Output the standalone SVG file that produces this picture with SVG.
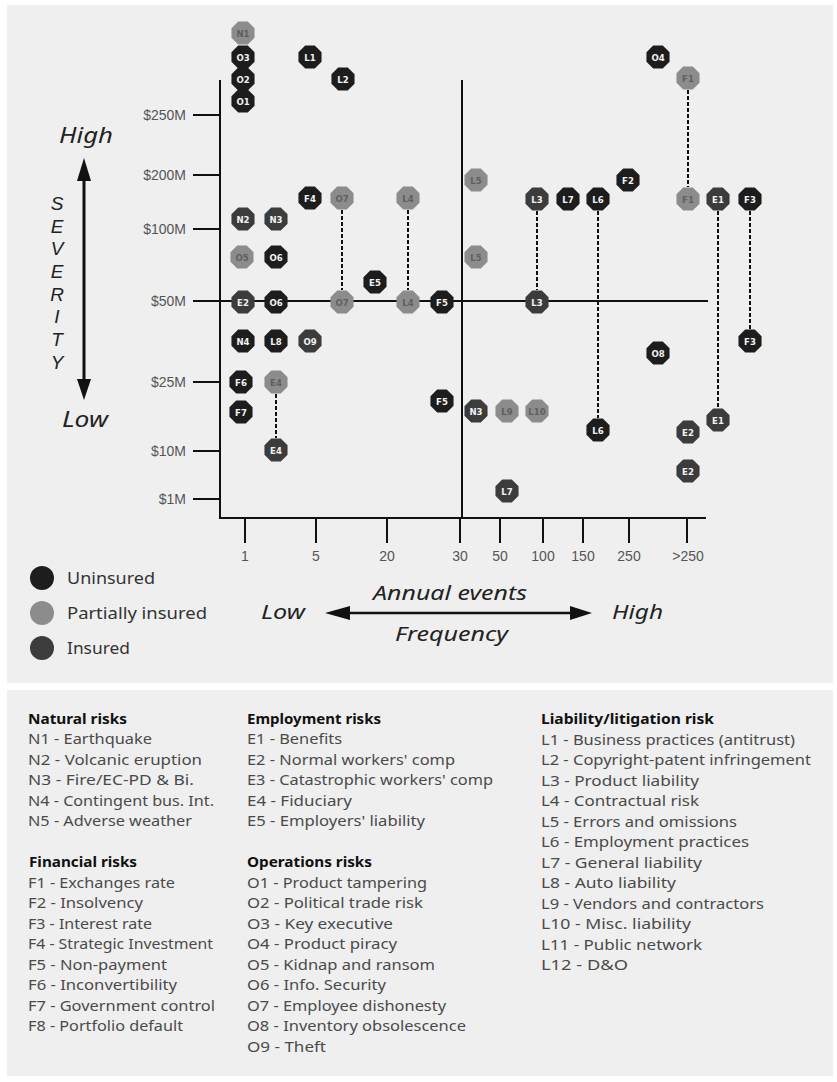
<svg xmlns="http://www.w3.org/2000/svg" xmlns:xlink="http://www.w3.org/1999/xlink" width="837" height="1082" viewBox="0 0 837 1082">
<style>
.panel{fill:#efefef}
.ax{stroke:#111;stroke-width:2;fill:none}
.dash{stroke:#111;stroke-width:2;stroke-dasharray:4 2;fill:none}
.u{fill:#1d1d1d}
.p{fill:#8c8c8c}
.i{fill:#3c3c3c}
.nt{font-family:"DejaVu Sans Condensed","DejaVu Sans",sans-serif;font-size:9.5px;font-weight:bold;text-anchor:middle;fill:#f2f2f2}
.pt{fill:#5f5f5f}
.tick{font-family:"Liberation Sans",Arial,sans-serif;font-size:14px;fill:#555}
.ytl{text-anchor:end}
.xtl{text-anchor:middle}
.it{font-family:"Noto Sans","Open Sans",sans-serif;font-style:italic;fill:#222}
.sev{font-family:"Liberation Sans",Arial,sans-serif;font-style:italic;font-size:19px;text-anchor:middle;fill:#222}
.lg{font-family:"Noto Sans","Open Sans",sans-serif;font-size:15px;fill:#4a4a4a}
.hd{font-family:"Noto Sans","Open Sans",sans-serif;font-size:15px;font-weight:bold;fill:#111}
.key{font-family:"Noto Sans","Open Sans",sans-serif;font-size:16px;fill:#333}
</style>
<defs>
<polygon id="oct" points="11.55,4.78 4.78,11.55 -4.78,11.55 -11.55,4.78 -11.55,-4.78 -4.78,-11.55 4.78,-11.55 11.55,-4.78"/>
</defs>
<rect class="panel" x="7" y="5" width="826" height="678"/>
<rect class="panel" x="7" y="690" width="826" height="386"/>

<g id="axes">
<line class="ax" x1="220" y1="80" x2="220" y2="519"/>
<line class="ax" x1="219" y1="518" x2="706" y2="518"/>
<line class="ax" x1="462" y1="80" x2="462" y2="518"/>
<line class="ax" x1="220" y1="301" x2="708" y2="301"/>
<g class="ax">
<line x1="193" y1="115" x2="220" y2="115"/>
<line x1="193" y1="175" x2="220" y2="175"/>
<line x1="193" y1="229" x2="220" y2="229"/>
<line x1="193" y1="301" x2="220" y2="301"/>
<line x1="193" y1="382" x2="220" y2="382"/>
<line x1="193" y1="451" x2="220" y2="451"/>
<line x1="193" y1="499" x2="220" y2="499"/>
<line x1="245" y1="518" x2="245" y2="543"/>
<line x1="316" y1="518" x2="316" y2="543"/>
<line x1="387" y1="518" x2="387" y2="543"/>
<line x1="460" y1="518" x2="460" y2="543"/>
<line x1="500" y1="518" x2="500" y2="543"/>
<line x1="543" y1="518" x2="543" y2="543"/>
<line x1="583" y1="518" x2="583" y2="543"/>
<line x1="629" y1="518" x2="629" y2="543"/>
<line x1="687" y1="518" x2="687" y2="543"/>
</g>
<g class="tick ytl">
<text x="186" y="120">$250M</text>
<text x="186" y="180">$200M</text>
<text x="186" y="234">$100M</text>
<text x="186" y="306">$50M</text>
<text x="186" y="387">$25M</text>
<text x="186" y="456">$10M</text>
<text x="186" y="504">$1M</text>
</g>
<g class="tick xtl">
<text x="245" y="561">1</text>
<text x="316" y="561">5</text>
<text x="387" y="561">20</text>
<text x="460" y="561">30</text>
<text x="500" y="561">50</text>
<text x="543" y="561">100</text>
<text x="583" y="561">150</text>
<text x="629" y="561">250</text>
<text x="688" y="561">&gt;250</text>
</g>
</g>

<g id="severity">
<line x1="84" y1="178" x2="84" y2="382" stroke="#111" stroke-width="3"/>
<polygon points="84,158 77,181 91,181" fill="#111"/>
<polygon points="84,400 77,379 91,379" fill="#111"/>
<text class="it" x="86" y="143" font-size="22" text-anchor="middle" textLength="54" lengthAdjust="spacingAndGlyphs">High</text>
<text class="it" x="85" y="427" font-size="22" text-anchor="middle" textLength="46" lengthAdjust="spacingAndGlyphs">Low</text>
<g class="sev">
<text x="57" y="210">S</text>
<text x="57" y="233">E</text>
<text x="57" y="255">V</text>
<text x="57" y="278">E</text>
<text x="57" y="301">R</text>
<text x="57" y="323">I</text>
<text x="57" y="346">T</text>
<text x="57" y="369">Y</text>
</g>
</g>

<g id="frequency">
<line x1="345" y1="613" x2="575" y2="613" stroke="#111" stroke-width="2.5"/>
<polygon points="325,613 350,606 350,620" fill="#111"/>
<polygon points="592,613 570,606 570,620" fill="#111"/>
<text class="it" x="261" y="619" font-size="20" textLength="44" lengthAdjust="spacingAndGlyphs">Low</text>
<text class="it" x="612" y="619" font-size="20" textLength="51" lengthAdjust="spacingAndGlyphs">High</text>
<text class="it" x="373" y="600" font-size="20" textLength="154" lengthAdjust="spacingAndGlyphs">Annual events</text>
<text class="it" x="395" y="641" font-size="20" textLength="113" lengthAdjust="spacingAndGlyphs">Frequency</text>
</g>

<g id="key">
<circle class="u" cx="42" cy="578" r="12"/>
<circle class="p" cx="42" cy="613" r="12"/>
<circle class="i" cx="42" cy="648" r="12"/>
<text class="key" x="67" y="584" textLength="88" lengthAdjust="spacingAndGlyphs">Uninsured</text>
<text class="key" x="67" y="619" textLength="140" lengthAdjust="spacingAndGlyphs">Partially insured</text>
<text class="key" x="67" y="654" textLength="63" lengthAdjust="spacingAndGlyphs">Insured</text>
</g>

<g id="connectors">
<line class="dash" x1="342" y1="210" x2="342" y2="290"/>
<line class="dash" x1="408" y1="210" x2="408" y2="290"/>
<line class="dash" x1="688" y1="90" x2="688" y2="187"/>
<line class="dash" x1="537" y1="211" x2="537" y2="290"/>
<line class="dash" x1="598" y1="211" x2="598" y2="418"/>
<line class="dash" x1="718" y1="211" x2="718" y2="408"/>
<line class="dash" x1="750" y1="211" x2="750" y2="329"/>
<line class="dash" x1="276" y1="394" x2="276" y2="438"/>
</g>

<g id="nodes">
<g id="n-N1"><use href="#oct" class="p" x="243" y="33"/><text class="nt pt" x="243" y="36.5">N1</text></g>
<g id="n-O3"><use href="#oct" class="u" x="243" y="57"/><text class="nt" x="243" y="60.5">O3</text></g>
<g id="n-O2"><use href="#oct" class="u" x="243" y="79"/><text class="nt" x="243" y="82.5">O2</text></g>
<g id="n-O1"><use href="#oct" class="u" x="243" y="101"/><text class="nt" x="243" y="104.5">O1</text></g>
<g id="n-L1"><use href="#oct" class="u" x="310" y="57"/><text class="nt" x="310" y="60.5">L1</text></g>
<g id="n-L2"><use href="#oct" class="u" x="343" y="79"/><text class="nt" x="343" y="82.5">L2</text></g>
<g id="n-O4"><use href="#oct" class="u" x="658" y="57"/><text class="nt" x="658" y="60.5">O4</text></g>
<g id="n-F1-a"><use href="#oct" class="p" x="688" y="78"/><text class="nt pt" x="688" y="81.5">F1</text></g>
<g id="n-L5-a"><use href="#oct" class="p" x="476" y="180"/><text class="nt pt" x="476" y="183.5">L5</text></g>
<g id="n-F2"><use href="#oct" class="u" x="628" y="180"/><text class="nt" x="628" y="183.5">F2</text></g>
<g id="n-F4"><use href="#oct" class="u" x="310" y="198"/><text class="nt" x="310" y="201.5">F4</text></g>
<g id="n-O7-a"><use href="#oct" class="p" x="342" y="198"/><text class="nt pt" x="342" y="201.5">O7</text></g>
<g id="n-L4-a"><use href="#oct" class="p" x="408" y="198"/><text class="nt pt" x="408" y="201.5">L4</text></g>
<g id="n-L3-a"><use href="#oct" class="i" x="537" y="199"/><text class="nt" x="537" y="202.5">L3</text></g>
<g id="n-L7-a"><use href="#oct" class="u" x="568" y="199"/><text class="nt" x="568" y="202.5">L7</text></g>
<g id="n-L6-a"><use href="#oct" class="u" x="598" y="199"/><text class="nt" x="598" y="202.5">L6</text></g>
<g id="n-F1-b"><use href="#oct" class="p" x="688" y="199"/><text class="nt pt" x="688" y="202.5">F1</text></g>
<g id="n-E1-a"><use href="#oct" class="i" x="718" y="199"/><text class="nt" x="718" y="202.5">E1</text></g>
<g id="n-F3-a"><use href="#oct" class="u" x="750" y="199"/><text class="nt" x="750" y="202.5">F3</text></g>
<g id="n-N2"><use href="#oct" class="i" x="243" y="219"/><text class="nt" x="243" y="222.5">N2</text></g>
<g id="n-N3-a"><use href="#oct" class="i" x="276" y="219"/><text class="nt" x="276" y="222.5">N3</text></g>
<g id="n-O5"><use href="#oct" class="p" x="242" y="257"/><text class="nt pt" x="242" y="260.5">O5</text></g>
<g id="n-O6-a"><use href="#oct" class="u" x="276" y="257"/><text class="nt" x="276" y="260.5">O6</text></g>
<g id="n-L5-b"><use href="#oct" class="p" x="476" y="257"/><text class="nt pt" x="476" y="260.5">L5</text></g>
<g id="n-E5"><use href="#oct" class="u" x="375" y="282"/><text class="nt" x="375" y="285.5">E5</text></g>
<g id="n-E2-a"><use href="#oct" class="i" x="243" y="302"/><text class="nt" x="243" y="305.5">E2</text></g>
<g id="n-O6-b"><use href="#oct" class="u" x="276" y="302"/><text class="nt" x="276" y="305.5">O6</text></g>
<g id="n-O7-b"><use href="#oct" class="p" x="342" y="302"/><text class="nt pt" x="342" y="305.5">O7</text></g>
<g id="n-L4-b"><use href="#oct" class="p" x="408" y="302"/><text class="nt pt" x="408" y="305.5">L4</text></g>
<g id="n-F5-a"><use href="#oct" class="u" x="442" y="302"/><text class="nt" x="442" y="305.5">F5</text></g>
<g id="n-L3-b"><use href="#oct" class="i" x="537" y="302"/><text class="nt" x="537" y="305.5">L3</text></g>
<g id="n-N4"><use href="#oct" class="u" x="243" y="341"/><text class="nt" x="243" y="344.5">N4</text></g>
<g id="n-L8"><use href="#oct" class="u" x="276" y="341"/><text class="nt" x="276" y="344.5">L8</text></g>
<g id="n-O9"><use href="#oct" class="i" x="310" y="341"/><text class="nt" x="310" y="344.5">O9</text></g>
<g id="n-F3-b"><use href="#oct" class="u" x="750" y="341"/><text class="nt" x="750" y="344.5">F3</text></g>
<g id="n-O8"><use href="#oct" class="u" x="658" y="353"/><text class="nt" x="658" y="356.5">O8</text></g>
<g id="n-F6"><use href="#oct" class="u" x="241" y="382"/><text class="nt" x="241" y="385.5">F6</text></g>
<g id="n-E4-a"><use href="#oct" class="p" x="276" y="382"/><text class="nt pt" x="276" y="385.5">E4</text></g>
<g id="n-F5-b"><use href="#oct" class="u" x="442" y="401"/><text class="nt" x="442" y="404.5">F5</text></g>
<g id="n-N3-b"><use href="#oct" class="i" x="476" y="411"/><text class="nt" x="476" y="414.5">N3</text></g>
<g id="n-L9"><use href="#oct" class="p" x="507" y="411"/><text class="nt pt" x="507" y="414.5">L9</text></g>
<g id="n-L10"><use href="#oct" class="p" x="537" y="411"/><text class="nt pt" x="537" y="414.5">L10</text></g>
<g id="n-F7"><use href="#oct" class="u" x="241" y="412"/><text class="nt" x="241" y="415.5">F7</text></g>
<g id="n-E1-b"><use href="#oct" class="i" x="718" y="420"/><text class="nt" x="718" y="423.5">E1</text></g>
<g id="n-L6-b"><use href="#oct" class="u" x="598" y="430"/><text class="nt" x="598" y="433.5">L6</text></g>
<g id="n-E2-b"><use href="#oct" class="i" x="688" y="432"/><text class="nt" x="688" y="435.5">E2</text></g>
<g id="n-E4-b"><use href="#oct" class="i" x="276" y="450"/><text class="nt" x="276" y="453.5">E4</text></g>
<g id="n-E2-c"><use href="#oct" class="i" x="688" y="471"/><text class="nt" x="688" y="474.5">E2</text></g>
<g id="n-L7-b"><use href="#oct" class="i" x="507" y="491"/><text class="nt" x="507" y="494.5">L7</text></g>
</g>

<g id="legend">
<text class="hd" x="28" y="724" textLength="99" lengthAdjust="spacingAndGlyphs">Natural risks</text>
<text class="lg" x="28" y="744" textLength="124" lengthAdjust="spacingAndGlyphs">N1 - Earthquake</text>
<text class="lg" x="28" y="765" textLength="174" lengthAdjust="spacingAndGlyphs">N2 - Volcanic eruption</text>
<text class="lg" x="28" y="785" textLength="166" lengthAdjust="spacingAndGlyphs">N3 - Fire/EC-PD &amp; Bi.</text>
<text class="lg" x="28" y="806" textLength="186" lengthAdjust="spacingAndGlyphs">N4 - Contingent bus. Int.</text>
<text class="lg" x="28" y="826" textLength="164" lengthAdjust="spacingAndGlyphs">N5 - Adverse weather</text>
<text class="hd" x="29" y="867" textLength="108" lengthAdjust="spacingAndGlyphs">Financial risks</text>
<text class="lg" x="28" y="888" textLength="147" lengthAdjust="spacingAndGlyphs">F1 - Exchanges rate</text>
<text class="lg" x="28" y="908" textLength="115" lengthAdjust="spacingAndGlyphs">F2 - Insolvency</text>
<text class="lg" x="28" y="929" textLength="124" lengthAdjust="spacingAndGlyphs">F3 - Interest rate</text>
<text class="lg" x="28" y="949" textLength="185" lengthAdjust="spacingAndGlyphs">F4 - Strategic Investment</text>
<text class="lg" x="28" y="970" textLength="139" lengthAdjust="spacingAndGlyphs">F5 - Non-payment</text>
<text class="lg" x="28" y="990" textLength="149" lengthAdjust="spacingAndGlyphs">F6 - Inconvertibility</text>
<text class="lg" x="28" y="1011" textLength="187" lengthAdjust="spacingAndGlyphs">F7 - Government control</text>
<text class="lg" x="28" y="1031" textLength="155" lengthAdjust="spacingAndGlyphs">F8 - Portfolio default</text>

<text class="hd" x="247" y="724" textLength="134" lengthAdjust="spacingAndGlyphs">Employment risks</text>
<text class="lg" x="247" y="744" textLength="95" lengthAdjust="spacingAndGlyphs">E1 - Benefits</text>
<text class="lg" x="247" y="765" textLength="208" lengthAdjust="spacingAndGlyphs">E2 - Normal workers' comp</text>
<text class="lg" x="247" y="785" textLength="246" lengthAdjust="spacingAndGlyphs">E3 - Catastrophic workers' comp</text>
<text class="lg" x="247" y="806" textLength="105" lengthAdjust="spacingAndGlyphs">E4 - Fiduciary</text>
<text class="lg" x="247" y="826" textLength="178" lengthAdjust="spacingAndGlyphs">E5 - Employers' liability</text>
<text class="hd" x="247" y="867" textLength="125" lengthAdjust="spacingAndGlyphs">Operations risks</text>
<text class="lg" x="247" y="888" textLength="180" lengthAdjust="spacingAndGlyphs">O1 - Product tampering</text>
<text class="lg" x="247" y="908" textLength="176" lengthAdjust="spacingAndGlyphs">O2 - Political trade risk</text>
<text class="lg" x="247" y="929" textLength="146" lengthAdjust="spacingAndGlyphs">O3 - Key executive</text>
<text class="lg" x="247" y="949" textLength="150" lengthAdjust="spacingAndGlyphs">O4 - Product piracy</text>
<text class="lg" x="247" y="970" textLength="188" lengthAdjust="spacingAndGlyphs">O5 - Kidnap and ransom</text>
<text class="lg" x="247" y="990" textLength="139" lengthAdjust="spacingAndGlyphs">O6 - Info. Security</text>
<text class="lg" x="247" y="1011" textLength="199" lengthAdjust="spacingAndGlyphs">O7 - Employee dishonesty</text>
<text class="lg" x="247" y="1031" textLength="219" lengthAdjust="spacingAndGlyphs">O8 - Inventory obsolescence</text>
<text class="lg" x="247" y="1052" textLength="79" lengthAdjust="spacingAndGlyphs">O9 - Theft</text>

<text class="hd" x="541" y="724" textLength="173" lengthAdjust="spacingAndGlyphs">Liability/litigation risk</text>
<text class="lg" x="541" y="744.5" textLength="254" lengthAdjust="spacingAndGlyphs">L1 - Business practices (antitrust)</text>
<text class="lg" x="541" y="765" textLength="270" lengthAdjust="spacingAndGlyphs">L2 - Copyright-patent infringement</text>
<text class="lg" x="541" y="785.5" textLength="158" lengthAdjust="spacingAndGlyphs">L3 - Product liability</text>
<text class="lg" x="541" y="806" textLength="158" lengthAdjust="spacingAndGlyphs">L4 - Contractual risk</text>
<text class="lg" x="541" y="826.5" textLength="196" lengthAdjust="spacingAndGlyphs">L5 - Errors and omissions</text>
<text class="lg" x="541" y="847" textLength="208" lengthAdjust="spacingAndGlyphs">L6 - Employment practices</text>
<text class="lg" x="541" y="867.5" textLength="161" lengthAdjust="spacingAndGlyphs">L7 - General liability</text>
<text class="lg" x="541" y="888" textLength="135" lengthAdjust="spacingAndGlyphs">L8 - Auto liability</text>
<text class="lg" x="541" y="908.5" textLength="223" lengthAdjust="spacingAndGlyphs">L9 - Vendors and contractors</text>
<text class="lg" x="541" y="929" textLength="150" lengthAdjust="spacingAndGlyphs">L10 - Misc. liability</text>
<text class="lg" x="541" y="949.5" textLength="161" lengthAdjust="spacingAndGlyphs">L11 - Public network</text>
<text class="lg" x="541" y="970" textLength="87" lengthAdjust="spacingAndGlyphs">L12 - D&amp;O</text>
</g>
</svg>
